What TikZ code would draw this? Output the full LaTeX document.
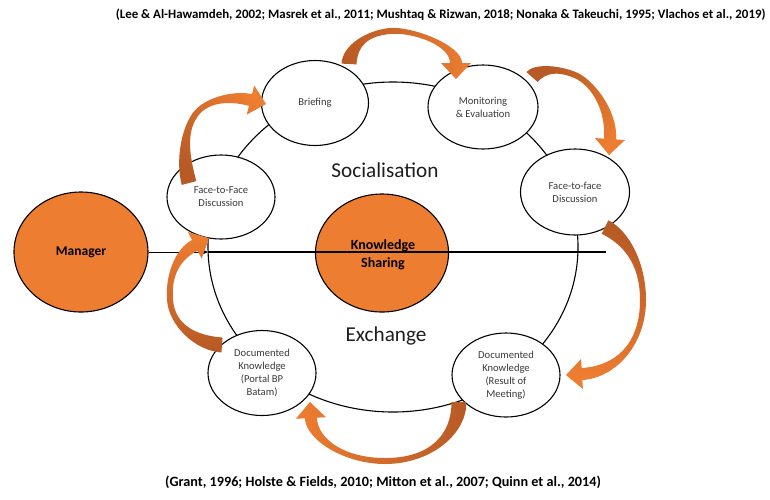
\documentclass[tikz,border=0pt]{standalone}
\usepackage{fontspec}
\setmainfont{Carlito}
\usetikzlibrary{shapes.geometric,arrows.meta,calc}
\definecolor{org}{HTML}{ED7D31}
\definecolor{dorg}{HTML}{B85A25}
\definecolor{txt}{HTML}{3A3A3A}
\definecolor{big}{HTML}{1E1E1E}
% #1 = arrow prefix, #2 = shading angle (dark end = tail)
\newcommand{\orgarrow}[2]{%
  \coordinate (hc) at ($(#1e)!16pt!(#1c4)$);
  \coordinate (tA) at ($(#1t)!7.5pt!90:(#1c1)$);
  \coordinate (tB) at ($(#1t)!7.5pt!-90:(#1c1)$);
  \coordinate (mA) at ($(#1m)!3pt!90:(#1c3)$);
  \coordinate (mB) at ($(#1m)!3pt!-90:(#1c3)$);
  \coordinate (hA) at ($(hc)!6pt!-90:(#1c4)$);
  \coordinate (hB) at ($(hc)!6pt!90:(#1c4)$);
  \coordinate (wA) at ($(hc)!15pt!-90:(#1c4)$);
  \coordinate (wB) at ($(hc)!15pt!90:(#1c4)$);
  \shade[left color=dorg, right color=org, shading angle=#2]
    (tA) .. controls ($(#1c1)+(tA)-(#1t)$) and ($(#1c2)+(mA)-(#1m)$) .. (mA)
         .. controls ($(#1c3)+(mA)-(#1m)$) and ($(#1c4)+(hA)-(hc)$) .. (hA)
    -- (wA) -- (#1e) -- (wB) -- (hB)
         .. controls ($(#1c4)+(hB)-(hc)$) and ($(#1c3)+(mB)-(#1m)$) .. (mB)
         .. controls ($(#1c2)+(mB)-(#1m)$) and ($(#1c1)+(tB)-(#1t)$) .. (tB)
    -- cycle;
}
\begin{document}
\begin{tikzpicture}[x=1pt,y=-1pt,
  bub/.style={ellipse, draw=black, line width=1.1pt, fill=white, minimum width=108pt, minimum height=85pt, inner sep=0pt, align=center, font=\fontsize{10.6}{13}\selectfont, text=txt},
  hot/.style={ellipse, draw=black, line width=1.1pt, fill=org, inner sep=0pt, align=center},
  lbl/.style={font=\bfseries\fontsize{14}{18}\selectfont, align=center, text=black},
  biglbl/.style={font=\fontsize{21.2}{25}\selectfont, text=big},
  cite/.style={font=\bfseries\fontsize{12.9}{15}\selectfont, text=black},
]
\useasboundingbox[fill=white] (0,0) rectangle (770,499);

% ring
\node[ellipse, draw=black, line width=1.1pt, minimum width=370pt, minimum height=330pt, inner sep=0pt] (ring) at (393,247) {};

% knowledge sharing
\node[hot, minimum width=133pt, minimum height=118pt] (ks) at (382,253) {};
\coordinate (hl) at (208,252);
\coordinate (hr) at (606,252);
\node[hot, minimum width=134pt, minimum height=120pt, lbl, font=\bfseries\fontsize{13.5}{18}\selectfont] (mgr) at (81,252) {Manager};
\draw[line width=1pt, -{Stealth[length=8pt,width=7pt]}] (mgr.east) -- (hl);
\draw[line width=1.1pt] (hl) -- (hr);
\node[lbl] (kstext) at (383,255) {Knowledge\\Sharing};

% stage bubbles
\node[bub, minimum width=107pt, minimum height=85pt] (brief) at (315,103) {Briefing};
\node[bub, minimum width=110pt, minimum height=84pt] (mon) at (483,107) {Monitoring\\\& Evaluation};
\node[bub, minimum width=108pt, minimum height=84pt] (ftfl) at (221,197) {Face-to-Face\\Discussion};
\node[bub, minimum width=109pt, minimum height=86pt] (ftfr) at (575,192) {Face-to-face\\Discussion};
\node[bub, minimum width=108pt, minimum height=85pt] (docl) at (262,373) {Documented\\Knowledge\\(Portal BP\\Batam)};
\node[bub, minimum width=108pt, minimum height=84pt] (docr) at (506,375) {Documented\\Knowledge\\(Result of\\Meeting)};

% labels
\node[biglbl] (soc) at (385,170) {Socialisation};
\node[biglbl] (exc) at (386,336) {Exchange};

% citations
\node[cite, anchor=east] (cite1) at (769,15) {(Lee \& Al-Hawamdeh, 2002; Masrek et al., 2011; Mushtaq \& Rizwan, 2018; Nonaka \& Takeuchi, 1995; Vlachos et al., 2019)};
\node[cite, font=\bfseries\fontsize{14.2}{16}\selectfont] (cite2) at (383,482) {(Grant, 1996; Holste \& Fields, 2010; Mitton et al., 2007; Quinn et al., 2014)};

% curved block arrows
\coordinate (a1t) at (189,183); \coordinate (a1c1) at (183,160); \coordinate (a1c2) at (183,132);
\coordinate (a1m) at (195,115); \coordinate (a1c3) at (207,98); \coordinate (a1c4) at (235,96); \coordinate (a1e) at (266,104);
\orgarrow{a1}{135}

\coordinate (a2t) at (349,64); \coordinate (a2c1) at (350,45); \coordinate (a2c2) at (368,33);
\coordinate (a2m) at (390,31); \coordinate (a2c3) at (412,29); \coordinate (a2c4) at (456,45); \coordinate (a2e) at (456,79);
\orgarrow{a2}{90}

\coordinate (a3t) at (532,77); \coordinate (a3c1) at (540,68); \coordinate (a3c2) at (558,68);
\coordinate (a3m) at (575,75); \coordinate (a3c3) at (592,82); \coordinate (a3c4) at (612,110); \coordinate (a3e) at (609,155);
\orgarrow{a3}{45}

\coordinate (a4t) at (605,227); \coordinate (a4c1) at (625,237); \coordinate (a4c2) at (643,262);
\coordinate (a4m) at (643,300); \coordinate (a4c3) at (643,345); \coordinate (a4c4) at (615,372); \coordinate (a4e) at (566,375);
\orgarrow{a4}{-15}

\coordinate (a5t) at (459,402); \coordinate (a5c1) at (459,435); \coordinate (a5c2) at (430,461);
\coordinate (a5m) at (385,461); \coordinate (a5c3) at (345,461); \coordinate (a5c4) at (312,440); \coordinate (a5e) at (310,402);
\orgarrow{a5}{-90}

\coordinate (a6t) at (222,345); \coordinate (a6c1) at (195,343); \coordinate (a6c2) at (172,325);
\coordinate (a6m) at (170,300); \coordinate (a6c3) at (168,275); \coordinate (a6c4) at (178,254); \coordinate (a6e) at (209,238);
\orgarrow{a6}{-173}
\end{tikzpicture}
\end{document}
